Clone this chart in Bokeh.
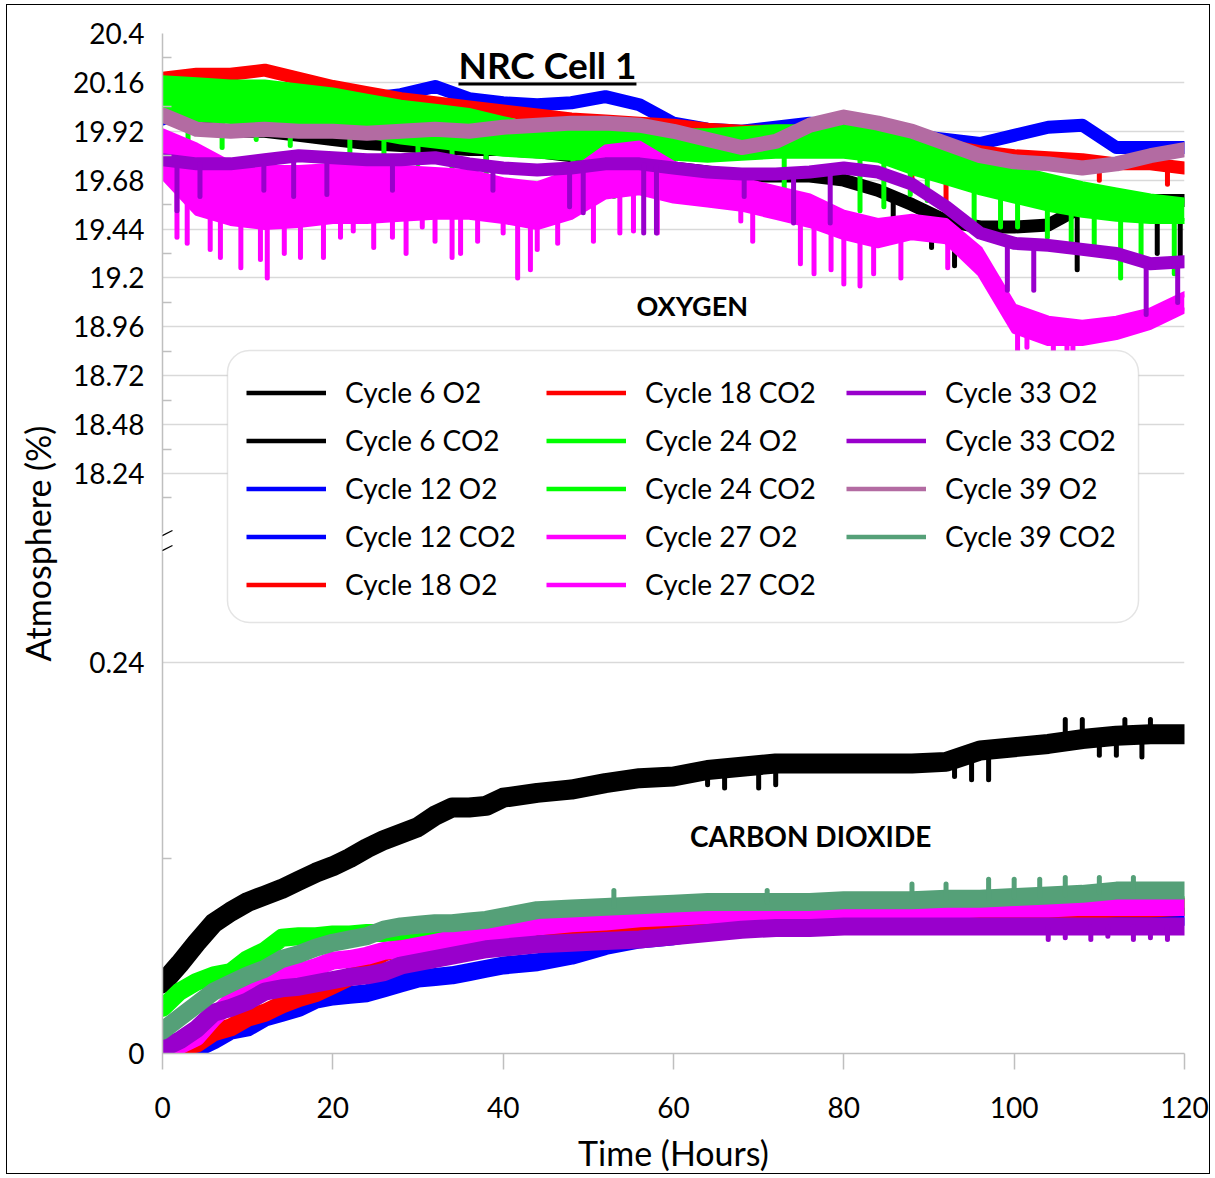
import numpy as np
from bokeh.plotting import figure
from bokeh.models import (Range1d, FixedTicker, CustomJSTickFormatter, Legend, LegendItem,
                          Label, BoxAnnotation, ColumnDataSource, Arrow)
from bokeh.embed import file_html
from bokeh.resources import INLINE

# ---------------- data ----------------
hours_o2 = [0, 4, 8, 12, 16, 20, 24, 28, 32, 36, 40, 44, 48, 52, 56, 60,
            64, 68, 72, 76, 80, 84, 88, 92, 96, 100, 104, 108, 112, 116, 120]

cycle6_o2 = [20.05, 19.95, 19.92, 19.92, 19.90, 19.88, 19.86, 19.85, 19.84, 19.83, 19.83, 19.82, 19.80, 19.78, 19.76, 19.74,
             19.72, 19.70, 19.70, 19.70, 19.68, 19.63, 19.56, 19.48, 19.45, 19.45, 19.46, 19.55, 19.58, 19.58, 19.58]
cycle12_o2 = [19.98, 20.05, 20.05, 20.05, 20.05, 20.06, 20.08, 20.10, 20.14, 20.08, 20.06, 20.05, 20.06, 20.09, 20.05, 19.96,
              19.93, 19.92, 19.94, 19.96, 19.95, 19.92, 19.90, 19.88, 19.86, 19.90, 19.94, 19.95, 19.84, 19.84, 19.84]
cycle18_o2 = [20.18, 20.20, 20.20, 20.22, 20.18, 20.14, 20.11, 20.08, 20.06, 20.04, 20.02, 20.00, 19.98, 19.97, 19.96, 19.95,
              19.93, 19.92, 19.92, 19.92, 19.92, 19.90, 19.87, 19.85, 19.82, 19.80, 19.79, 19.78, 19.76, 19.76, 19.74]
# Cycle 24 O2 and Cycle 27 O2 are very noisy: lower / upper edge of their dense band
cycle24_o2_low = [19.98, 19.98, 19.97, 19.96, 19.95, 19.93, 19.90, 19.87, 19.85, 19.83, 19.81, 19.80, 19.79, 19.79, 19.79, 19.79,
                  19.78, 19.79, 19.80, 19.80, 19.80, 19.78, 19.72, 19.67, 19.62, 19.58, 19.54, 19.51, 19.49, 19.48, 19.48]
cycle24_o2_high = [20.18, 20.17, 20.16, 20.16, 20.14, 20.12, 20.09, 20.06, 20.04, 20.02, 19.98, 19.94, 19.93, 19.93, 19.92, 19.92,
                   19.92, 19.93, 19.94, 19.94, 19.94, 19.92, 19.88, 19.83, 19.78, 19.74, 19.70, 19.66, 19.63, 19.60, 19.58]
cycle27_o2_low = [19.70, 19.52, 19.47, 19.45, 19.46, 19.48, 19.48, 19.49, 19.50, 19.50, 19.48, 19.45, 19.50, 19.60, 19.62, 19.58,
                  19.56, 19.54, 19.50, 19.46, 19.40, 19.36, 19.40, 19.38, 19.22, 18.94, 18.88, 18.88, 18.91, 18.96, 19.04]
cycle27_o2_high = [19.92, 19.85, 19.76, 19.74, 19.74, 19.75, 19.74, 19.74, 19.73, 19.72, 19.68, 19.66, 19.72, 19.84, 19.86, 19.76,
                   19.72, 19.68, 19.64, 19.60, 19.52, 19.48, 19.50, 19.48, 19.34, 19.06, 19.00, 18.98, 19.00, 19.04, 19.12]
cycle33_o2 = [19.78, 19.76, 19.76, 19.78, 19.80, 19.79, 19.78, 19.78, 19.79, 19.76, 19.74, 19.73, 19.74, 19.76, 19.76, 19.74,
              19.72, 19.71, 19.71, 19.72, 19.74, 19.72, 19.66, 19.55, 19.42, 19.37, 19.36, 19.34, 19.32, 19.27, 19.28]
cycle39_o2 = [20.00, 19.93, 19.92, 19.93, 19.92, 19.92, 19.91, 19.92, 19.93, 19.92, 19.94, 19.95, 19.96, 19.96, 19.95, 19.92,
              19.88, 19.84, 19.87, 19.95, 19.99, 19.96, 19.92, 19.86, 19.80, 19.77, 19.76, 19.74, 19.76, 19.80, 19.83]

# short excursions (hour, extreme value) seen as spikes in the O2 traces
cycle6_o2_spike_hours = [30, 34, 38, 64.0, 85.8, 90.3, 93.0, 107.4, 116.8, 119.5]
cycle6_o2_spike_values = [19.78, 19.76, 19.74, 19.56, 19.42, 19.35, 19.26, 19.24, 19.32, 19.30]
cycle18_o2_spike_hours = [88, 92, 110, 118]
cycle18_o2_spike_values = [19.66, 19.55, 19.68, 19.66]
cycle24_o2_spike_hours = [3, 7, 11, 15, 22, 26, 30, 34, 38, 48.2, 53.0, 60.0, 73.0, 81.9, 84.7, 87.8, 89.8, 95.3,
                          98.4, 100.4, 103.9, 106.7, 109.4, 112.5, 114.9, 118.8]
cycle24_o2_spike_values = [19.86, 19.84, 19.88, 19.85, 19.80, 19.78, 19.76, 19.74, 19.70, 19.56, 19.60, 19.58, 19.56, 19.53, 19.55,
                           19.61, 19.58, 19.48, 19.45, 19.45, 19.40, 19.34, 19.32, 19.20, 19.30, 19.22]
cycle27_o2_spike_hours = [1.7, 2.9, 5.6, 6.8, 9.2, 11.5, 12.3, 14.3, 16.2, 18.9, 20.9, 22.4, 24.8, 27.0, 28.6,
                          30.5, 32.0, 34.0, 35.0, 37.0, 40.0, 41.7, 43.2, 44.0, 46.4, 50.6, 53.7, 55.3, 58.1,
                          67.9, 69.3, 74.9, 76.5, 78.5, 80.0, 81.9, 83.5, 86.7, 92.2, 100.4, 101.5, 104.6, 106.2, 106.9]
cycle27_o2_spike_values = [19.40, 19.37, 19.34, 19.30, 19.25, 19.29, 19.20, 19.32, 19.30, 19.30, 19.40, 19.43, 19.35, 19.40, 19.32,
                           19.45, 19.38, 19.30, 19.32, 19.38, 19.42, 19.20, 19.24, 19.34, 19.37, 19.38, 19.42, 19.43, 19.42,
                           19.48, 19.38, 19.27, 19.22, 19.24, 19.17, 19.16, 19.22, 19.20, 19.25, 18.78, 18.86, 18.71, 18.71, 18.78]
cycle33_o2_spike_hours = [1.7, 4.4, 11.9, 15.4, 19.3, 27.0, 38.8, 47.8, 49.4, 56.5, 58.0, 68.3, 74.1, 78.4,
                          99.2, 102.3, 115.5, 119.2]
cycle33_o2_spike_values = [19.53, 19.60, 19.63, 19.60, 19.61, 19.63, 19.63, 19.55, 19.52, 19.42, 19.42, 19.60, 19.47, 19.47,
                           19.14, 19.14, 19.02, 19.08]

hours_co2 = [0, 2, 4, 6, 8, 10, 12, 14, 16, 18, 20, 22, 24, 26, 28, 30, 32, 34, 36, 38, 40,
             44, 48, 52, 56, 60, 64, 68, 72, 76, 80, 84, 88, 92, 96, 100, 104, 108, 112, 116, 120]

cycle6_co2 = [0.043, 0.055, 0.068, 0.080, 0.087, 0.093, 0.097, 0.101, 0.106, 0.111, 0.115, 0.120, 0.126, 0.131, 0.135, 0.139,
              0.146, 0.151, 0.151, 0.152, 0.157, 0.160, 0.162, 0.166, 0.169, 0.170, 0.174, 0.176, 0.178, 0.178, 0.178,
              0.178, 0.178, 0.179, 0.186, 0.188, 0.190, 0.193, 0.195, 0.196, 0.196]
cycle12_co2 = [0.000, 0.000, 0.003, 0.008, 0.014, 0.016, 0.022, 0.025, 0.028, 0.033, 0.035, 0.036, 0.037, 0.040, 0.043, 0.046,
               0.047, 0.048, 0.050, 0.052, 0.054, 0.056, 0.060, 0.066, 0.070, 0.072, 0.075, 0.077, 0.078, 0.079, 0.080,
               0.080, 0.081, 0.081, 0.082, 0.082, 0.083, 0.083, 0.084, 0.084, 0.084]
cycle18_co2 = [0.000, 0.004, 0.006, 0.013, 0.016, 0.022, 0.025, 0.030, 0.034, 0.037, 0.042, 0.047, 0.055, 0.062, 0.065, 0.066,
               0.068, 0.069, 0.070, 0.071, 0.072, 0.074, 0.076, 0.077, 0.078, 0.079, 0.080, 0.082, 0.083, 0.084, 0.085,
               0.085, 0.086, 0.086, 0.087, 0.087, 0.088, 0.088, 0.089, 0.089, 0.090]
cycle24_co2 = [0.028, 0.038, 0.044, 0.048, 0.050, 0.058, 0.063, 0.071, 0.072, 0.072, 0.073, 0.073, 0.074, 0.074, 0.075, 0.076,
               0.076, 0.077, 0.078, 0.079, 0.080, 0.081, 0.082, 0.083, 0.084, 0.085, 0.086, 0.087, 0.087, 0.088, 0.088,
               0.089, 0.089, 0.090, 0.090, 0.090, 0.090, 0.091, 0.091, 0.091, 0.091]
cycle27_co2 = [0.003, 0.005, 0.010, 0.022, 0.032, 0.040, 0.044, 0.048, 0.050, 0.053, 0.057, 0.058, 0.060, 0.063, 0.064, 0.066,
               0.068, 0.070, 0.071, 0.072, 0.074, 0.078, 0.080, 0.081, 0.083, 0.084, 0.085, 0.086, 0.086, 0.087, 0.087,
               0.088, 0.088, 0.088, 0.089, 0.089, 0.089, 0.090, 0.090, 0.090, 0.090]
cycle33_co2 = [0.003, 0.008, 0.015, 0.025, 0.028, 0.032, 0.038, 0.040, 0.041, 0.043, 0.045, 0.047, 0.048, 0.050, 0.054, 0.056,
               0.058, 0.060, 0.062, 0.064, 0.065, 0.067, 0.068, 0.069, 0.070, 0.072, 0.074, 0.076, 0.077, 0.077, 0.078,
               0.078, 0.078, 0.078, 0.078, 0.078, 0.078, 0.078, 0.078, 0.078, 0.078]
cycle39_co2 = [0.014, 0.022, 0.030, 0.038, 0.043, 0.048, 0.052, 0.058, 0.061, 0.065, 0.068, 0.070, 0.072, 0.076, 0.078, 0.079,
               0.080, 0.080, 0.081, 0.082, 0.084, 0.088, 0.089, 0.090, 0.091, 0.092, 0.093, 0.093, 0.093, 0.093, 0.094,
               0.094, 0.094, 0.095, 0.095, 0.096, 0.097, 0.098, 0.100, 0.100, 0.100]

cycle6_co2_spike_hours = [64, 66, 70, 72, 93, 95, 97, 106, 108, 110, 112, 113, 115, 116]
cycle6_co2_spike_values = [0.165, 0.163, 0.163, 0.165, 0.170, 0.168, 0.168, 0.205, 0.205, 0.183, 0.183, 0.205, 0.182, 0.205]
cycle33_co2_spike_hours = [104, 106, 109, 111, 114, 116, 118]
cycle33_co2_spike_values = [0.070, 0.071, 0.070, 0.072, 0.070, 0.071, 0.070]
cycle39_co2_spike_hours = [53, 71, 88, 92, 97, 100, 103, 106, 110, 114]
cycle39_co2_spike_values = [0.100, 0.100, 0.104, 0.104, 0.107, 0.107, 0.107, 0.108, 0.108, 0.108]

series_names = ["Cycle 6 O2", "Cycle 6 CO2", "Cycle 12 O2", "Cycle 12 CO2", "Cycle 18 O2",
                "Cycle 18 CO2", "Cycle 24 O2", "Cycle 24 CO2", "Cycle 27 O2", "Cycle 27 CO2",
                "Cycle 33 O2", "Cycle 33 CO2", "Cycle 39 O2", "Cycle 39 CO2"]

o2_tick_values = [18.24, 18.48, 18.72, 18.96, 19.2, 19.44, 19.68, 19.92, 20.16, 20.4]
o2_minor_values = [18.12, 18.36, 18.6, 18.84, 19.08, 19.32, 19.56, 19.8, 20.04, 20.28]
co2_tick_values = [0, 0.24]
co2_minor_values = [0.12]
hour_ticks = [0, 20, 40, 60, 80, 100, 120]

# ---------------- broken axis geometry ----------------
O2_HI = 20.4
O2_LO = 15.3926      # bottom of the O2 scale (frame bottom)
CO2_TOP = 0.62609    # top of the CO2 scale (frame top)
BREAK = 0.3135       # position of the axis break (in CO2 units)


def o2_to_main(v):
    return (np.asarray(v, dtype=float) - O2_LO) / (O2_HI - O2_LO) * CO2_TOP


colors = {"6": "#000000", "12": "#0000FF", "18": "#FF0000", "24": "#00FF00",
          "27": "#FF00FF", "33": "#9900CC", "39O2": "#B36BA2", "39CO2": "#55A078"}

FONT = "Lato"

p = figure(width=1204, height=1170, x_range=Range1d(0, 120), y_range=Range1d(0, CO2_TOP),
           output_backend="svg", toolbar_location=None,
           min_border_left=155, min_border_right=27, min_border_top=28, min_border_bottom=122)
p.extra_y_ranges = {"o2": Range1d(O2_LO, O2_HI)}
p.outline_line_color = None
p.background_fill_color = "white"
p.border_fill_color = "white"
p.styles = {"border": "1px solid black", "margin-left": "6px", "margin-top": "4px"}

# axes
yax = p.yaxis[0]
yticker = FixedTicker(ticks=list(co2_tick_values) + list(o2_to_main(o2_tick_values)),
                      minor_ticks=list(co2_minor_values) + list(o2_to_main(o2_minor_values)))
yax.ticker = yticker
yax.formatter = CustomJSTickFormatter(args=dict(lo=O2_LO, hi=O2_HI, top=CO2_TOP, brk=BREAK), code="""
    if (tick < brk) { return (Math.round(tick * 100) / 100).toString(); }
    const v = lo + tick / top * (hi - lo);
    return (Math.round(v * 100) / 100).toString();
""")
yax.axis_line_color = "#BFBFBF"
yax.axis_line_width = 1.5
yax.major_tick_in = 0
yax.major_tick_out = 0
yax.minor_tick_in = 9
yax.minor_tick_out = 0
yax.minor_tick_line_color = "#BFBFBF"
yax.minor_tick_line_width = 1.5
yax.major_label_text_font = FONT
yax.major_label_text_font_size = "28px"
yax.major_label_text_color = "black"
yax.major_label_standoff = 18
yax.axis_label = "Atmosphere (%)"
yax.axis_label_text_font = FONT
yax.axis_label_text_font_size = "34px"
yax.axis_label_text_font_style = "normal"
yax.axis_label_text_color = "black"
yax.axis_label_standoff = 12

xax = p.xaxis[0]
xax.ticker = FixedTicker(ticks=hour_ticks, minor_ticks=[])
xax.axis_line_color = "#BFBFBF"
xax.axis_line_width = 1.5
xax.major_tick_in = 0
xax.major_tick_out = 16
xax.major_tick_line_color = "#BFBFBF"
xax.major_tick_line_width = 1.5
xax.minor_tick_in = 0
xax.minor_tick_out = 0
xax.major_label_text_font = FONT
xax.major_label_text_font_size = "28px"
xax.major_label_text_color = "black"
xax.major_label_standoff = 27
xax.axis_label = "Time (Hours)"
xax.axis_label_text_font = FONT
xax.axis_label_text_font_size = "34px"
xax.axis_label_text_font_style = "normal"
xax.axis_label_text_color = "black"
xax.axis_label_standoff = 11

p.xgrid.visible = False
p.ygrid.ticker = yticker
p.ygrid.grid_line_color = "#D9D9D9"
p.ygrid.grid_line_width = 1.5


def draw_spikes(hours, base_hours, base_values, ends, color, width, range_name=None):
    y0 = np.interp(hours, base_hours, base_values)
    kw = dict(y_range_name=range_name) if range_name else {}
    p.segment(x0=hours, x1=hours, y0=y0, y1=ends, line_color=color, line_width=width,
              line_cap="round", **kw)


def draw_band(hours, low, high, color, edge):
    p.varea(x=hours, y1=low, y2=high, fill_color=color, y_range_name="o2")
    p.line(hours, low, y_range_name="o2", line_color=color, line_width=edge, line_join="round", line_cap="round")
    p.line(hours, high, y_range_name="o2", line_color=color, line_width=edge, line_join="round", line_cap="round")


O2W = 13
CO2W = 18
LJ = dict(line_join="round", line_cap="round")

# draw in series order (later series on top)
p.line(hours_o2, cycle6_o2, y_range_name="o2", line_color=colors["6"], line_width=O2W, **LJ)
draw_spikes(cycle6_o2_spike_hours, hours_o2, cycle6_o2, cycle6_o2_spike_values, colors["6"], 5, "o2")
p.line(hours_co2, cycle6_co2, line_color=colors["6"], line_width=CO2W + 2, **LJ)
draw_spikes(cycle6_co2_spike_hours, hours_co2, cycle6_co2, cycle6_co2_spike_values, colors["6"], 5)

p.line(hours_o2, cycle12_o2, y_range_name="o2", line_color=colors["12"], line_width=O2W, **LJ)
p.line(hours_co2, cycle12_co2, line_color=colors["12"], line_width=CO2W, **LJ)

p.line(hours_o2, cycle18_o2, y_range_name="o2", line_color=colors["18"], line_width=O2W, **LJ)
draw_spikes(cycle18_o2_spike_hours, hours_o2, cycle18_o2, cycle18_o2_spike_values, colors["18"], 5, "o2")
p.line(hours_co2, cycle18_co2, line_color=colors["18"], line_width=CO2W, **LJ)

draw_band(hours_o2, cycle24_o2_low, cycle24_o2_high, colors["24"], 6)
draw_spikes(cycle24_o2_spike_hours, hours_o2, cycle24_o2_low, cycle24_o2_spike_values, colors["24"], 5, "o2")
p.line(hours_co2, cycle24_co2, line_color=colors["24"], line_width=CO2W, **LJ)

draw_band(hours_o2, cycle27_o2_low, cycle27_o2_high, colors["27"], 6)
draw_spikes(cycle27_o2_spike_hours, hours_o2, cycle27_o2_low, cycle27_o2_spike_values, colors["27"], 5, "o2")
p.line(hours_co2, cycle27_co2, line_color=colors["27"], line_width=CO2W, **LJ)

p.line(hours_o2, cycle33_o2, y_range_name="o2", line_color=colors["33"], line_width=O2W, **LJ)
draw_spikes(cycle33_o2_spike_hours, hours_o2, cycle33_o2, cycle33_o2_spike_values, colors["33"], 5, "o2")
p.line(hours_co2, cycle33_co2, line_color=colors["33"], line_width=CO2W, **LJ)
draw_spikes(cycle33_co2_spike_hours, hours_co2, cycle33_co2, cycle33_co2_spike_values, colors["33"], 5)

p.line(hours_o2, cycle39_o2, y_range_name="o2", line_color=colors["39O2"], line_width=O2W + 2, **LJ)
p.line(hours_co2, cycle39_co2, line_color=colors["39CO2"], line_width=CO2W, **LJ)
draw_spikes(cycle39_co2_spike_hours, hours_co2, cycle39_co2, cycle39_co2_spike_values, colors["39CO2"], 5)

# legend (thin sample lines; the sample renderers hold one off-range point)
legend_colors = [colors["6"], colors["6"], colors["12"], colors["12"], colors["18"], colors["18"],
                 colors["24"], colors["24"], colors["27"], colors["27"], colors["33"], colors["33"],
                 colors["39O2"], colors["39CO2"]]
items = []
for name, c in zip(series_names, legend_colors):
    r = p.line("x", "y", source=ColumnDataSource(dict(x=[-50.0], y=[-50.0])), line_color=c, line_width=4.5)
    items.append(LegendItem(label=name, renderers=[r]))

# rounded legend frame
p.add_layout(BoxAnnotation(left=7.63, right=114.6, bottom=0.2646, top=0.4315,
                           fill_color="white", fill_alpha=1.0, line_color="#A6A6A6", line_width=1.5,
                           border_radius=22, level="glyph"))

legend = Legend(items=items, location=(84, 452), orientation="vertical", nrows=5,
                padding=0, margin=0, spacing=14, glyph_width=80, glyph_height=31,
                label_height=31, label_width=187, label_standoff=19,
                label_text_font=FONT, label_text_font_size="28px", label_text_baseline="middle",
                label_text_color="black",
                background_fill_alpha=0, border_line_color=None)
p.add_layout(legend, "center")

# texts inside the plot
p.add_layout(Label(x=45.2, y=0.6071, text="NRC Cell 1", text_align="center", text_baseline="middle",
                   text_font=FONT, text_font_size="37px", text_font_style="bold", text_color="black"))
p.add_layout(BoxAnnotation(left=34.75, right=55.65, bottom=0.5942, top=0.5960,
                           fill_color="black", fill_alpha=1.0, line_color=None))
p.add_layout(Label(x=62.2, y=0.4591, text="OXYGEN", text_align="center", text_baseline="middle",
                   text_font=FONT, text_font_size="27px", text_font_style="bold", text_color="black"))
p.add_layout(Label(x=76.1, y=0.1332, text="CARBON DIOXIDE", text_align="center", text_baseline="middle",
                   text_font=FONT, text_font_size="28px", text_font_style="bold", text_color="black"))

# axis break marks
p.add_layout(BoxAnnotation(left=-0.4, right=0.4, bottom=0.3075, top=0.3195,
                           fill_color="white", fill_alpha=1.0, line_color=None))
p.add_layout(Arrow(end=None, x_start=-1.17, y_start=0.3149, x_end=1.17, y_end=0.3210,
                   line_color="black", line_width=1.2))
p.add_layout(Arrow(end=None, x_start=-1.17, y_start=0.3057, x_end=1.17, y_end=0.3118,
                   line_color="black", line_width=1.2))

open("out.html", "w").write(file_html(p, INLINE))
